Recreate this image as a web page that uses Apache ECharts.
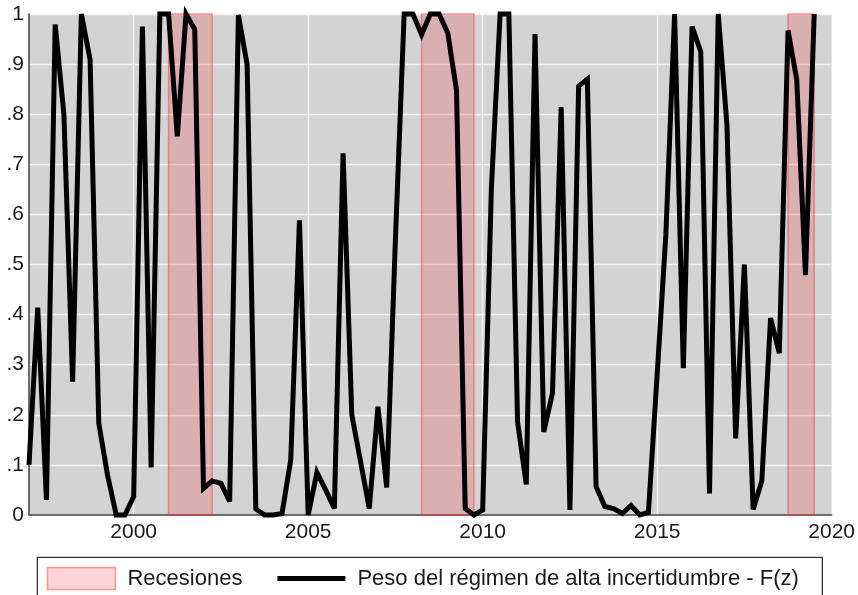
<!DOCTYPE html>
<html>
<head>
<meta charset="utf-8">
<script src="https://cdn.jsdelivr.net/npm/echarts@6/dist/echarts.min.js"></script>
<style>
  html, body { margin: 0; padding: 0; background: #ffffff; }
  #chart { width: 858px; height: 595px; }
</style>
</head>
<body>
<div id="chart"></div>
<script>
// Quarterly series, first observation 1997q1
const firstYear = 1997;
const pesoAltaIncertidumbre = [
  0.10, 0.414, 0.03, 0.979, 0.80, 0.266, 1.0, 0.909, 0.183, 0.08,
  0.0, 0.0, 0.037, 0.975, 0.095, 1.0, 1.0, 0.756, 1.0, 0.969,
  0.053, 0.068, 0.063, 0.027, 0.998, 0.899, 0.012, 0.0, 0.0, 0.003,
  0.11, 0.588, 0.0, 0.085, 0.05, 0.013, 0.722, 0.2, 0.107, 0.013,
  0.216, 0.055, 0.55, 1.0, 1.0, 0.959, 1.0, 1.0, 0.962, 0.848,
  0.013, 0.0, 0.01, 0.652, 1.0, 1.0, 0.186, 0.061, 0.96, 0.166,
  0.243, 0.814, 0.01, 0.856, 0.87, 0.057, 0.017, 0.013, 0.003, 0.019,
  0.0, 0.005, 0.28, 0.56, 1.0, 0.293, 0.975, 0.925, 0.043, 1.0,
  0.779, 0.153, 0.5, 0.011, 0.068, 0.393, 0.323, 0.967, 0.869, 0.479,
  1.0
];

// Recession periods [start, end] in fractional years
const recesionInicio = [2001.0, 2008.25, 2018.75];
const recesionFin    = [2002.25, 2009.75, 2019.5];

// Axis ticks and labels
const xTicks = [2000, 2005, 2010, 2015];
const xLabels = [2000, 2005, 2010, 2015, 2020];
const yTickLabels = ['0', '.1', '.2', '.3', '.4', '.5', '.6', '.7', '.8', '.9', '1'];

const nombreRecesiones = 'Recesiones';
const nombreSerie = 'Peso del régimen de alta incertidumbre - F(z)';

const FONT = "'Liberation Sans', Arial, sans-serif";

const lineData = pesoAltaIncertidumbre.map((v, i) => [firstYear + i / 4, v]);
const recesionData = recesionInicio.map((s, i) => [s, recesionFin[i]]);

const chart = echarts.init(document.getElementById('chart'), null, { renderer: 'canvas' });

chart.setOption({
  backgroundColor: '#ffffff',
  animation: false,
  grid: {
    left: 29, top: 14, width: 804.5, height: 501,
    show: true, backgroundColor: '#d3d3d3', borderWidth: 0
  },
  xAxis: {
    type: 'value', min: 1997, max: 2020,
    axisLine: { show: true, lineStyle: { color: '#444444', width: 1.5 } },
    axisTick: { show: false, customValues: xTicks },
    axisLabel: {
      customValues: xLabels, margin: 7,
      fontSize: 21, fontFamily: FONT, color: '#1a1a1a',
      formatter: v => String(v)
    },
    splitLine: { show: true, lineStyle: { color: '#f2f2f2', width: 1.4 } }
  },
  yAxis: {
    type: 'value', min: 0, max: 1, interval: 0.1,
    axisLine: { show: true, lineStyle: { color: '#444444', width: 1.5 } },
    axisTick: { show: false },
    axisLabel: {
      margin: 5, fontSize: 21, fontFamily: FONT, color: '#1a1a1a',
      formatter: v => yTickLabels[Math.round(v * 10)]
    },
    splitLine: { show: true, lineStyle: { color: '#f2f2f2', width: 1.4 } }
  },
  legend: {
    left: 36.7, top: 556.7,
    padding: [10, 10, 10, 10],
    itemGap: 35, itemWidth: 68, itemHeight: 22,
    textStyle: { fontSize: 22, fontFamily: FONT, color: '#1a1a1a', padding: [0, 0, 0, 7] },
    data: [
      {
        name: nombreRecesiones, icon: 'rect',
        itemStyle: { color: 'rgba(255,0,0,0.17)', borderColor: 'rgba(240,60,60,0.49)', borderWidth: 1.5 }
      },
      {
        name: nombreSerie, icon: 'path://M0 0H68V5H0Z',
        itemStyle: { color: '#000000' }
      }
    ]
  },
  graphic: [{
    type: 'rect', left: 36.7, top: 556.7, z: -10,
    shape: { width: 785, height: 60 },
    style: { fill: '#ffffff', stroke: '#333333', lineWidth: 1.3 }
  }],
  series: [
    {
      type: 'custom',
      name: nombreRecesiones,
      data: recesionData,
      encode: { x: [0, 1] },
      z: 2,
      itemStyle: { color: 'rgba(255,0,0,0.17)' },
      renderItem: (params, api) => {
        const p0 = api.coord([api.value(0), 1]);
        const p1 = api.coord([api.value(1), 0]);
        return {
          type: 'rect',
          shape: { x: p0[0], y: p0[1], width: p1[0] - p0[0], height: p1[1] - p0[1] },
          style: { fill: 'rgba(255,0,0,0.17)', stroke: 'rgba(240,60,60,0.49)', lineWidth: 1.5 }
        };
      }
    },
    {
      type: 'line',
      name: nombreSerie,
      data: lineData,
      symbol: 'none',
      clip: false,
      z: 3,
      lineStyle: { color: '#000000', width: 5, join: 'miter', miterLimit: 4 },
      itemStyle: { color: '#000000' }
    }
  ]
});
</script>
</body>
</html>
